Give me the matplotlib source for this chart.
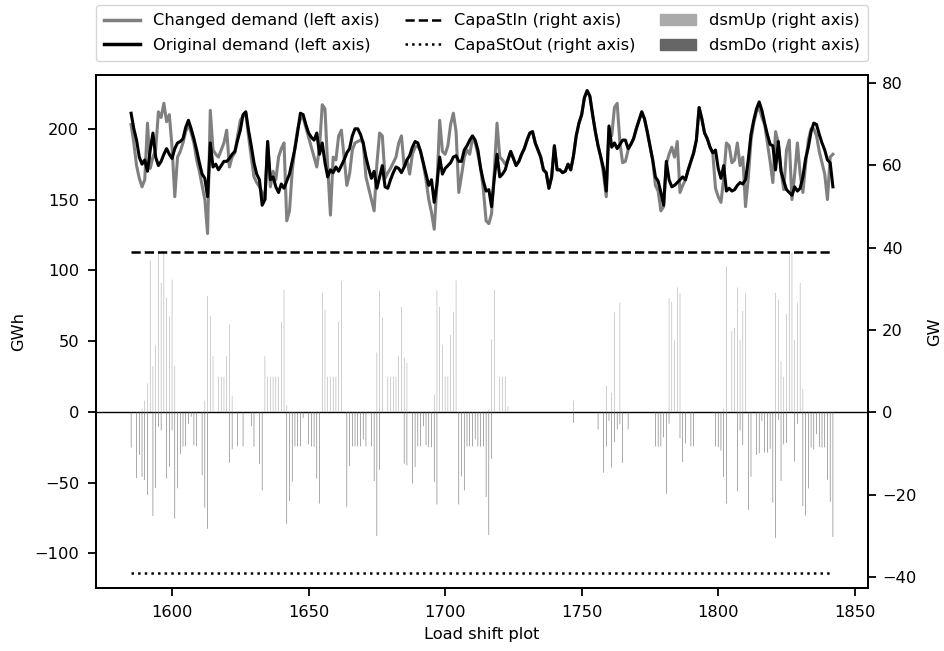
import numpy as np
import matplotlib
matplotlib.use("Agg")
import matplotlib.pyplot as plt
from matplotlib.patches import Patch
from matplotlib.lines import Line2D

start_hour = 1585
original_demand = [
    211, 200, 192, 180, 175, 178, 170, 185, 197, 180, 174, 177, 182, 186, 182,
    179, 186, 190, 191, 193, 201, 206, 200, 193, 185, 176, 168, 165, 152, 190,
    173, 175, 171, 174, 177, 177, 179, 182, 184, 192, 199, 210, 212,
    199, 188, 176, 168, 164, 146, 150, 191, 164, 166, 159, 155, 161, 158, 163,
    168, 177, 186, 198, 211, 210, 203, 197, 194, 192, 197, 182, 190, 176, 166,
    171, 169, 173, 170, 174, 178, 183, 186, 195, 200, 200, 196, 190,
    180, 172, 165, 170, 158, 166, 174, 159, 158, 164, 169, 173, 172, 169, 173,
    178, 181, 187, 191, 190, 184, 176, 168, 160, 164, 148, 161, 180, 168, 172,
    174, 176, 180, 181, 177, 177, 185, 188, 192, 195, 192, 185, 172, 163, 156,
    157, 145, 165, 182, 166, 168, 171, 178, 184, 179, 174, 177, 182, 186, 192,
    197, 198, 190, 185, 180, 171, 169, 158, 166, 188, 171, 171, 169, 170, 175,
    171, 181, 195, 204, 210, 222, 227, 223, 210, 198, 188, 180, 172, 156,
    202, 187, 190, 186, 189, 192, 192, 186, 189, 193, 200, 206, 212, 207, 198,
    188, 178, 166, 163, 155, 146, 177, 164, 159, 160, 162, 164, 166, 164, 171,
    177, 183, 192, 215, 207, 197, 193, 187, 183, 185, 172,
    165, 174, 156, 158, 156, 157, 160, 162, 161, 164, 178, 196, 206, 214, 219,
    213, 204, 196, 189, 188, 171, 191, 170, 163, 157, 155, 153, 159, 156, 158,
    166, 179, 187, 198, 204, 203, 196, 190, 185, 178, 176, 159,
]
changed_demand = [
    203, 190, 174, 165, 159, 164, 204, 172, 180, 185, 212, 208, 218, 205, 210,
    187, 152, 180, 184, 190, 198, 203, 197, 190, 178, 170, 160, 150, 126, 213,
    185, 182, 180, 185, 190, 199, 173, 180, 183, 195, 206, 209, 211,
    195, 180, 166, 162, 159, 155, 150, 191, 159, 170, 164, 180, 186, 190, 135,
    142, 170, 187, 200, 207, 208, 201, 194, 187, 180, 173, 187, 217, 214, 173,
    139, 180, 178, 195, 199, 180, 160, 168, 185, 190, 191, 192, 190,
    166, 158, 150, 142, 175, 197, 195, 165, 169, 172, 176, 180, 190, 195, 173,
    178, 168, 182, 187, 188, 184, 175, 164, 150, 141, 129, 160, 206, 184, 182,
    188, 203, 211, 198, 155, 167, 180, 185, 182, 193, 190, 182, 172, 157, 135,
    133, 140, 170, 204, 180, 178, 175, 178, 184, 179, 174, 177, 182, 186, 192,
    197, 198, 190, 185, 180, 171, 169, 158, 166, 188, 171, 171, 169, 170, 175,
    171, 181, 195, 204, 210, 222, 227, 223, 210, 198, 188, 180, 168, 152,
    200, 195, 215, 218, 190, 176, 177, 185, 189, 193, 200, 206, 212, 207, 198,
    188, 178, 160, 156, 142, 145, 175, 182, 187, 180, 191, 155, 160, 164, 171,
    177, 183, 192, 215, 207, 197, 193, 187, 183, 158, 152,
    148, 165, 190, 188, 176, 178, 190, 174, 180, 145, 165, 192, 204, 212, 215,
    208, 203, 190, 177, 162, 198, 190, 170, 157, 185, 192, 150, 168, 190, 168,
    155, 175, 192, 200, 200, 195, 184, 176, 168, 150, 180, 182,
]

dsm_up_hours = [
    1589, 1590, 1591, 1592, 1593, 1594, 1595, 1596, 1597, 1598, 1599, 1600, 1601,
    1612, 1613, 1614, 1615, 1617, 1618, 1619, 1620, 1621, 1622,
    1634, 1635, 1636, 1637, 1638, 1639, 1640, 1641, 1642,
    1655, 1656, 1657, 1658, 1659, 1660, 1661, 1662,
    1675, 1676, 1677, 1679, 1680, 1681, 1682, 1683, 1684, 1685, 1686,
    1696, 1697, 1698, 1699, 1700, 1701, 1702, 1703, 1704,
    1716, 1717, 1718, 1720, 1721, 1722, 1723, 1747, 1759, 1761, 1762, 1764,
    1782, 1783, 1784, 1785, 1786,
    1802, 1803, 1805, 1806, 1807, 1808, 1809, 1810,
    1821, 1822, 1823, 1824, 1825, 1826, 1827, 1828, 1829, 1830, 1831,
]
dsm_up_values = [
    0.9, 2.8, 7.0, 36.8, 11.2, 16.3, 38.7, 31.4, 38.7, 27.8, 23.2, 32.2, 11.2,
    2.8, 28.2, 23.3, 13.6, 8.6, 8.6, 8.6, 13.6, 21.3, 4.0,
    13.6, 8.6, 8.6, 8.6, 8.6, 8.6, 21.9, 29.7, 1.7,
    29.0, 24.9, 8.6, 8.6, 8.6, 8.6, 21.9, 31.9,
    14.5, 29.5, 23.0, 8.6, 8.6, 8.6, 8.6, 13.7, 25.6, 13.3, 12.0,
    4.3, 29.6, 25.6, 16.3, 8.6, 8.6, 18.7, 24.4, 32.0,
    0.6, 17.7, 29.7, 8.6, 8.6, 8.6, 1.5, 2.8, 6.4, 4.7, 24.3, 26.6,
    27.6, 26.8, 17.5, 30.3, 28.9,
    0.9, 35.4, 19.7, 20.5, 30.3, 17.5, 24.6, 28.9,
    29.0, 27.4, 12.3, 8.6, 23.8, 38.7, 38.7, 17.5, 26.6, 31.4, 5.7,
]
dsm_do_hours = [
    1585, 1587, 1588, 1589, 1590, 1591, 1593, 1594, 1595, 1596, 1598, 1599, 1600,
    1601, 1602, 1603, 1604, 1605, 1606, 1607, 1608, 1609, 1611, 1612, 1613,
    1621, 1622, 1624, 1626, 1629, 1630, 1632, 1633,
    1642, 1643, 1644, 1645, 1646, 1647, 1648, 1650, 1651, 1652, 1653, 1654,
    1664, 1665, 1666, 1667, 1668, 1669, 1670, 1671, 1673, 1674, 1675, 1676,
    1685, 1686, 1688, 1689, 1690, 1691, 1692, 1693, 1694, 1695, 1696, 1697,
    1705, 1706, 1707, 1708, 1709, 1710, 1711, 1712, 1713, 1714, 1715, 1716, 1717,
    1747, 1756, 1758, 1759, 1760, 1761, 1762, 1763, 1764, 1765, 1767,
    1777, 1778, 1779, 1780, 1781, 1782, 1786, 1787, 1788, 1790, 1791,
    1799, 1800, 1801, 1802, 1803, 1807, 1808, 1809, 1811, 1812,
    1814, 1815, 1816, 1817, 1818, 1819, 1820, 1821, 1822, 1823, 1824, 1825,
    1828, 1829, 1831, 1832, 1833, 1834, 1835, 1836, 1837, 1838, 1839, 1840,
    1841, 1842,
]
dsm_do_values = [
    -8.6, -16.0, -10.4, -15.7, -16.5, -20.1, -25.2, -18.4, -3.6, -4.4, -16.1, -13.3, -4.4,
    -25.8, -18.5, -10.2, -8.3, -8.3, -2.8, -1.1, -8.0, -8.3, -15.3, -23.2, -28.3,
    -12.3, -9.0, -8.3, -8.3, -3.4, -8.4, -12.6, -19.0,
    -27.1, -21.6, -16.9, -8.3, -8.3, -8.3, -1.4, -7.8, -8.3, -8.4, -16.1, -22.2,
    -23.0, -13.1, -8.3, -8.3, -8.3, -8.3, -6.6, -8.3, -8.3, -16.7, -30.1, -14.0,
    -12.5, -12.9, -17.3, -13.3, -8.3, -8.3, -3.4, -8.0, -8.5, -8.5, -16.9, -22.4,
    -22.4, -15.6, -19.0, -8.3, -8.3, -8.3, -6.6, -8.3, -8.4, -8.3, -20.6, -29.8, -11.3,
    -2.6, -4.2, -14.7, -8.3, -2.1, -13.4, -7.3, -4.2, -2.9, -12.3, -4.2,
    -8.3, -8.4, -8.3, -6.1, -19.8, -2.8, -6.3, -12.1, -7.6, -8.3, -8.3,
    -8.3, -8.5, -9.3, -15.7, -22.2, -19.2, -4.4, -8.0, -23.7, -15.7,
    -10.4, -10.0, -2.1, -9.8, -9.8, -8.9, -22.0, -30.5, -1.9, -16.7, -7.8, -7.5,
    -12.0, -2.8, -22.8, -25.1, -18.5, -8.6, -9.0, -5.3, -8.5, -8.6, -8.5, -16.4,
    -21.8, -30.3,
]
capa_st_in = 39.0
capa_st_out = -39.0

hours = np.arange(start_hour, start_hour + len(original_demand))

fig = plt.figure(figsize=(9.44, 6.51), dpi=100)
ax = fig.add_axes([0.1017, 0.0968, 0.8178, 0.788])
ax2 = ax.twinx()

ax.plot(hours, changed_demand, color="#808080", lw=2.2, zorder=3)
ax.plot(hours, original_demand, color="black", lw=2.2, zorder=4)
ax.axhline(0, color="black", lw=1.0, zorder=2)

ax2.bar(dsm_up_hours, dsm_up_values, width=0.2, color="#aaaaaa", lw=0, snap=False)
ax2.bar(dsm_do_hours, dsm_do_values, width=0.2, color="#666666", lw=0, snap=False)
ax2.plot([hours[0], hours[-1]], [capa_st_in] * 2, color="black", ls="--", lw=1.8)
ax2.plot([hours[0], hours[-1]], [capa_st_out] * 2, color="black", ls=":", lw=1.8)

ax.set_xlim(1572.15, 1854.85)
ax.set_ylim(-124.4, 238)
ax2.set_ylim(-42.7, 81.9)
ax.set_yticks([-100, -50, 0, 50, 100, 150, 200])
ax2.set_yticks([-40, -20, 0, 20, 40, 60, 80])
ax.set_xticks([1600, 1650, 1700, 1750, 1800, 1850])

fs = 11.7
ax.set_ylabel("GWh", fontsize=fs, labelpad=6)
ax2.set_ylabel("GW", fontsize=fs, labelpad=8)
ax.set_xlabel("Load shift plot", fontsize=fs, labelpad=5)
ax.tick_params(labelsize=fs, width=1.3, length=6, pad=6)
ax2.tick_params(labelsize=fs, width=1.3, length=6, pad=4)
for a in (ax, ax2):
    for s in a.spines.values():
        s.set_linewidth(1.4)

handles = [
    Line2D([], [], color="#808080", lw=2.5),
    Line2D([], [], color="black", lw=2.5),
    Line2D([], [], color="black", lw=1.8, ls="--"),
    Line2D([], [], color="black", lw=1.8, ls=":"),
    Patch(color="#aaaaaa"),
    Patch(color="#666666"),
]
labels = [
    "Changed demand (left axis)", "Original demand (left axis)",
    "CapaStIn (right axis)", "CapaStOut (right axis)",
    "dsmUp (right axis)", "dsmDo (right axis)",
]
ax.legend(handles, labels, ncol=3, loc="lower left",
          bbox_to_anchor=(0.0, 1.027, 1.0, 0.1), mode="expand",
          fontsize=fs, frameon=True, borderaxespad=0.0,
          handlelength=2.2, borderpad=0.5, labelspacing=0.6)

fig.savefig("out.png", dpi=100)
